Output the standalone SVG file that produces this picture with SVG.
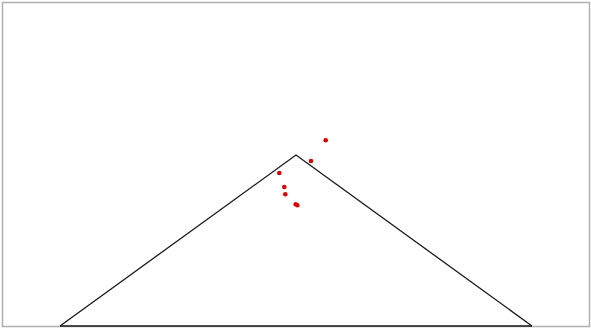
<svg xmlns="http://www.w3.org/2000/svg" width="591" height="328" viewBox="0 0 591 328">
<style>
.frame{fill:#fff;stroke:#b0b0b0;stroke-width:1.5}
.tri{fill:none;stroke:#1a1a1a;stroke-width:1.3}
.pt{fill:#e00000}
</style>
<rect class="frame" x="2.5" y="2.5" width="587" height="324"/>
<g id="triangle"><polyline class="tri" points="60,326 296,155 532,326"/><line class="tri" x1="60" y1="326" x2="532" y2="326"/></g>
<g id="points">
<circle class="pt" cx="325.7" cy="140.3" r="2.3"/>
<circle class="pt" cx="311" cy="161" r="2.3"/>
<circle class="pt" cx="279.3" cy="173" r="2.3"/>
<circle class="pt" cx="284.3" cy="187" r="2.3"/>
<circle class="pt" cx="285.3" cy="194.3" r="2.3"/>
<circle class="pt" cx="295.7" cy="204.3" r="2.3"/>
<circle class="pt" cx="297.3" cy="205.3" r="2.3"/>
</g>
</svg>
